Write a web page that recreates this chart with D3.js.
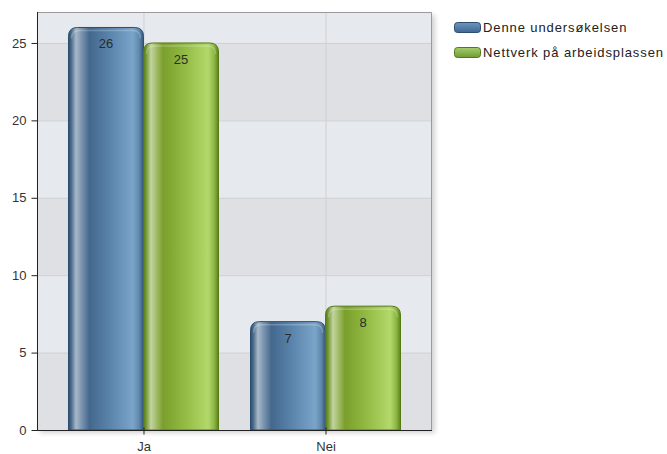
<!DOCTYPE html>
<html>
<head>
<meta charset="utf-8">
<script src="https://cdn.jsdelivr.net/npm/d3@7"></script>
<style>
  html, body { margin: 0; padding: 0; background: #fff; }
  svg { display: block; font-family: "Liberation Sans", Arial, sans-serif; }
</style>
</head>
<body>
<svg id="chart" width="667" height="454"></svg>
<script>
// Survey answers: counts per category for each series
const categories = ["Ja", "Nei"];
const seriesNames = ["Denne undersøkelsen", "Nettverk på arbeidsplassen"];
const valuesDenne = [26, 7];
const valuesNettverk = [25, 8];
const yTicks = [0, 5, 10, 15, 20, 25];
const yMax = 27;

const series = [
  { name: seriesNames[0], values: valuesDenne, key: "blue" },
  { name: seriesNames[1], values: valuesNettverk, key: "green" }
];

const svg = d3.select("#chart");
const plot = { left: 37, top: 12, right: 432, bottom: 430 };

const x = d3.scalePoint().domain(categories).range([plot.left, plot.right]).padding(0.585);
const y = d3.scaleLinear().domain([0, yMax]).range([plot.bottom, plot.top]);
const barW = 75;

const defs = svg.append("defs");

// Cylinder-like horizontal gradients for the bars
const gradStops = {
  blue: [
    [0, "#2c4c6c"], [0.04, "#4f6f8f"], [0.1, "#a8b9c9"], [0.17, "#7d97b1"],
    [0.28, "#43688d"], [0.6, "#5f89b0"], [0.86, "#7ba4c9"], [0.94, "#6189ae"], [1, "#34577a"]
  ],
  green: [
    [0, "#4f7a14"], [0.04, "#7a9c3a"], [0.1, "#c3d4a1"], [0.17, "#a3bd6a"],
    [0.26, "#7a9f2c"], [0.6, "#98bf4a"], [0.86, "#b3d96b"], [0.94, "#8fb848"], [1, "#5a8418"]
  ]
};
Object.entries(gradStops).forEach(([k, stops]) => {
  const g = defs.append("linearGradient").attr("id", "grad-" + k)
    .attr("x1", 0).attr("x2", 1).attr("y1", 0).attr("y2", 0);
  stops.forEach(([o, c]) => g.append("stop").attr("offset", o).attr("stop-color", c));
});
const edge = { blue: "#2c4d6e", green: "#557a12" };

// Flat vertical gradients for the legend swatches
const swatchStops = {
  blue: [[0, "#6f96bd"], [0.5, "#557fa9"], [1, "#3f6890"]],
  green: [[0, "#a8cc6e"], [0.5, "#8ab650"], [1, "#6f9a34"]]
};
Object.entries(swatchStops).forEach(([k, stops]) => {
  const g = defs.append("linearGradient").attr("id", "sw-" + k)
    .attr("x1", 0).attr("x2", 0).attr("y1", 0).attr("y2", 1);
  stops.forEach(([o, c]) => g.append("stop").attr("offset", o).attr("stop-color", c));
});

// Soft drop shadow for the plot area
const f = defs.append("filter").attr("id", "shadow").attr("x", "-5%").attr("y", "-5%")
  .attr("width", "115%").attr("height", "115%");
f.append("feGaussianBlur").attr("in", "SourceAlpha").attr("stdDeviation", 2.5);
f.append("feOffset").attr("dx", 3).attr("dy", 3).attr("result", "b");
f.append("feComponentTransfer").append("feFuncA").attr("type", "linear").attr("slope", 0.18);
const m = f.append("feMerge");
m.append("feMergeNode");
m.append("feMergeNode").attr("in", "SourceGraphic");

// Plot background with alternating bands
svg.append("rect")
  .attr("x", plot.left).attr("y", plot.top)
  .attr("width", plot.right - plot.left).attr("height", plot.bottom - plot.top)
  .attr("fill", "#e6e9ed").attr("filter", "url(#shadow)");

const bandEdges = yTicks.concat([yMax]);
for (let i = 0; i < bandEdges.length - 1; i++) {
  svg.append("rect")
    .attr("x", plot.left).attr("width", plot.right - plot.left)
    .attr("y", y(bandEdges[i + 1])).attr("height", y(bandEdges[i]) - y(bandEdges[i + 1]))
    .attr("fill", i % 2 === 0 ? "#dfe0e3" : "#e6e9ed");
}

// Gridlines
svg.append("g").selectAll("line").data(yTicks.slice(1)).join("line")
  .attr("x1", plot.left).attr("x2", plot.right)
  .attr("y1", d => y(d) + 0.5).attr("y2", d => y(d) + 0.5)
  .attr("stroke", "#cfd0d3").attr("stroke-width", 1);
svg.append("g").selectAll("line").data(categories).join("line")
  .attr("x1", d => x(d) + 0.5).attr("x2", d => x(d) + 0.5)
  .attr("y1", plot.top).attr("y2", plot.bottom)
  .attr("stroke", "#cfd0d3").attr("stroke-width", 1);

// Frame top/right
svg.append("path")
  .attr("d", `M${plot.left},${plot.top + 0.5}H${plot.right - 0.5}V${plot.bottom}`)
  .attr("fill", "none").attr("stroke", "#9a9a9a");

// Bars
function barPath(x0, w, yTop, yBot, r) {
  r = Math.min(r, (yBot - yTop));
  return `M${x0},${yBot}V${yTop + r}Q${x0},${yTop} ${x0 + r},${yTop}H${x0 + w - r}Q${x0 + w},${yTop} ${x0 + w},${yTop + r}V${yBot}Z`;
}

series.forEach((s, si) => {
  const g = svg.append("g");
  const bx = c => x(c) - barW + si * barW;
  g.selectAll("path").data(categories).join("path")
    .attr("d", (c, i) => barPath(bx(c), barW, y(s.values[i]), y(0), 9))
    .attr("fill", `url(#grad-${s.key})`)
    .attr("stroke", edge[s.key]).attr("stroke-width", 1);
  // top highlight rim
  g.selectAll("path.rim").data(categories).join("path").attr("class", "rim")
    .attr("d", (c, i) => {
      const x0 = bx(c) + 3, w = barW - 6, t = y(s.values[i]) + 3;
      return `M${x0},${t + 8}Q${x0},${t} ${x0 + 8},${t}H${x0 + w - 8}Q${x0 + w},${t} ${x0 + w},${t + 8}`;
    })
    .attr("fill", "none").attr("stroke", "rgba(255,255,255,0.22)").attr("stroke-width", 1.5);
  g.selectAll("text").data(categories).join("text")
    .attr("x", c => bx(c) + barW / 2)
    .attr("y", (c, i) => y(s.values[i]) + 21)
    .attr("text-anchor", "middle")
    .attr("font-size", 13).attr("fill", "#2b2b2b")
    .text((c, i) => s.values[i]);
});

// Axes
const yAxis = d3.axisLeft(y).tickValues(yTicks).tickSize(6).tickPadding(5).tickSizeOuter(0);
const yg = svg.append("g").attr("transform", `translate(${plot.left + 0.5},0)`).call(yAxis);
yg.select(".domain").attr("stroke", "#222").attr("d", `M0,${plot.top}V${plot.bottom}`);
yg.selectAll(".tick line").attr("stroke", "#222");
yg.selectAll(".tick text").attr("font-size", 13).attr("fill", "#333")
  .attr("font-family", "Liberation Sans, Arial, sans-serif");

const xAxis = d3.axisBottom(x).tickSize(6).tickPadding(5).tickSizeOuter(0);
const xg = svg.append("g").attr("transform", `translate(0,${plot.bottom + 0.5})`).call(xAxis);
xg.select(".domain").attr("stroke", "#222").attr("d", `M${plot.left},0H${plot.right}`);
xg.selectAll(".tick line").attr("stroke", "#222").attr("y1", -3).attr("y2", 4);
xg.selectAll(".tick text").attr("font-size", 13).attr("fill", "#333")
  .attr("font-family", "Liberation Sans, Arial, sans-serif");

// Legend
const legend = svg.append("g").attr("transform", "translate(454,22)");
series.forEach((s, i) => {
  const row = legend.append("g").attr("transform", `translate(0,${i * 25})`);
  row.append("rect").attr("x", 0.5).attr("y", 0.5).attr("width", 26).attr("height", 10)
    .attr("rx", 3).attr("fill", `url(#sw-${s.key})`).attr("stroke", edge[s.key]);
  row.append("text").attr("x", 29).attr("y", 9.5)
    .attr("font-size", 13).attr("letter-spacing", 0.9).attr("fill", "#222").text(s.name);
});
</script>
</body>
</html>
